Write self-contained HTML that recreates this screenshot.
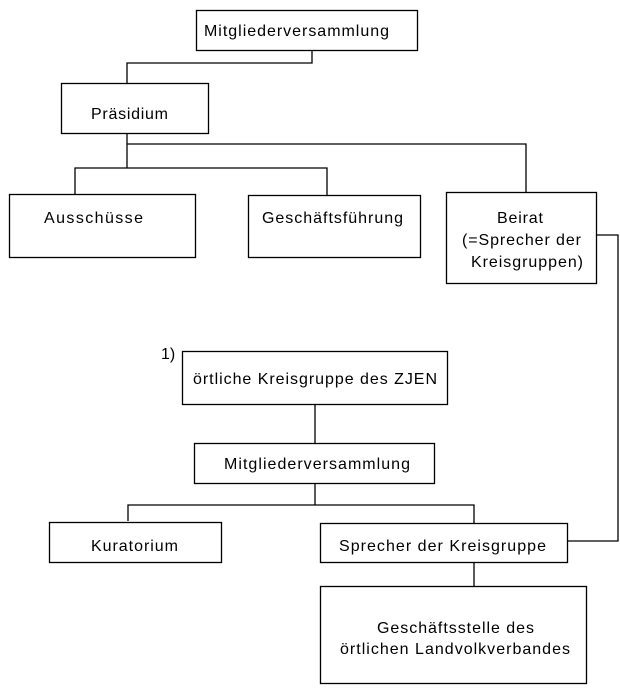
<!DOCTYPE html>
<html><head><meta charset="utf-8"><style>
html,body{margin:0;padding:0;background:#fff;}
svg{display:block;}
text{font-family:"Liberation Sans",Arial,sans-serif;font-size:16px;fill:#000;}
</style></head><body>
<svg width="620" height="694" viewBox="0 0 620 694" xmlns="http://www.w3.org/2000/svg">
<g fill="none" stroke="#000" stroke-width="1.3">
<rect x="196.5" y="10.5" width="221" height="40"/>
<polyline points="312,50 312,63 127,63 127,83"/>
<rect x="61.5" y="83.5" width="147" height="50"/>
<polyline points="127,133 127,168"/>
<polyline points="127,144 526,144 526,192"/>
<polyline points="75,194 75,168 327,168 327,195"/>
<rect x="9.5" y="194.5" width="186" height="63"/>
<rect x="248.5" y="195.5" width="172" height="62"/>
<rect x="446.5" y="192.5" width="150" height="91"/>
<polyline points="596,235 618,235 618,541 567,541"/>
<rect x="182.5" y="351.5" width="265" height="53"/>
<line x1="315" y1="404" x2="315" y2="443"/>
<rect x="194.5" y="443.5" width="240" height="40"/>
<line x1="315" y1="483" x2="315" y2="505"/>
<polyline points="128,521 128,505 474,505 474,523"/>
<rect x="49.5" y="522.5" width="172" height="40"/>
<rect x="320.5" y="523.5" width="247" height="39"/>
<line x1="474" y1="562" x2="474" y2="586"/>
<rect x="320.5" y="586.5" width="266" height="97"/>
</g>
<text x="204" y="36" textLength="185" lengthAdjust="spacing">Mitgliederversammlung</text>
<text x="91" y="119" textLength="77" lengthAdjust="spacing">Präsidium</text>
<text x="44" y="223" textLength="99" lengthAdjust="spacing">Ausschüsse</text>
<text x="262" y="223" textLength="141" lengthAdjust="spacing">Geschäftsführung</text>
<text x="497" y="223" textLength="46" lengthAdjust="spacing">Beirat</text>
<text x="462" y="245" textLength="119" lengthAdjust="spacing">(=Sprecher der</text>
<text x="471" y="267" textLength="112" lengthAdjust="spacing">Kreisgruppen)</text>
<text x="161" y="359">1)</text>
<text x="193" y="384" textLength="244" lengthAdjust="spacing">örtliche Kreisgruppe des ZJEN</text>
<text x="224" y="469" textLength="186" lengthAdjust="spacing">Mitgliederversammlung</text>
<text x="91" y="551" textLength="87" lengthAdjust="spacing">Kuratorium</text>
<text x="339" y="551" textLength="207" lengthAdjust="spacing">Sprecher der Kreisgruppe</text>
<text x="377" y="633" textLength="157" lengthAdjust="spacing">Geschäftsstelle des</text>
<text x="340" y="654" textLength="230" lengthAdjust="spacing">örtlichen Landvolkverbandes</text>
</svg>
</body></html>
